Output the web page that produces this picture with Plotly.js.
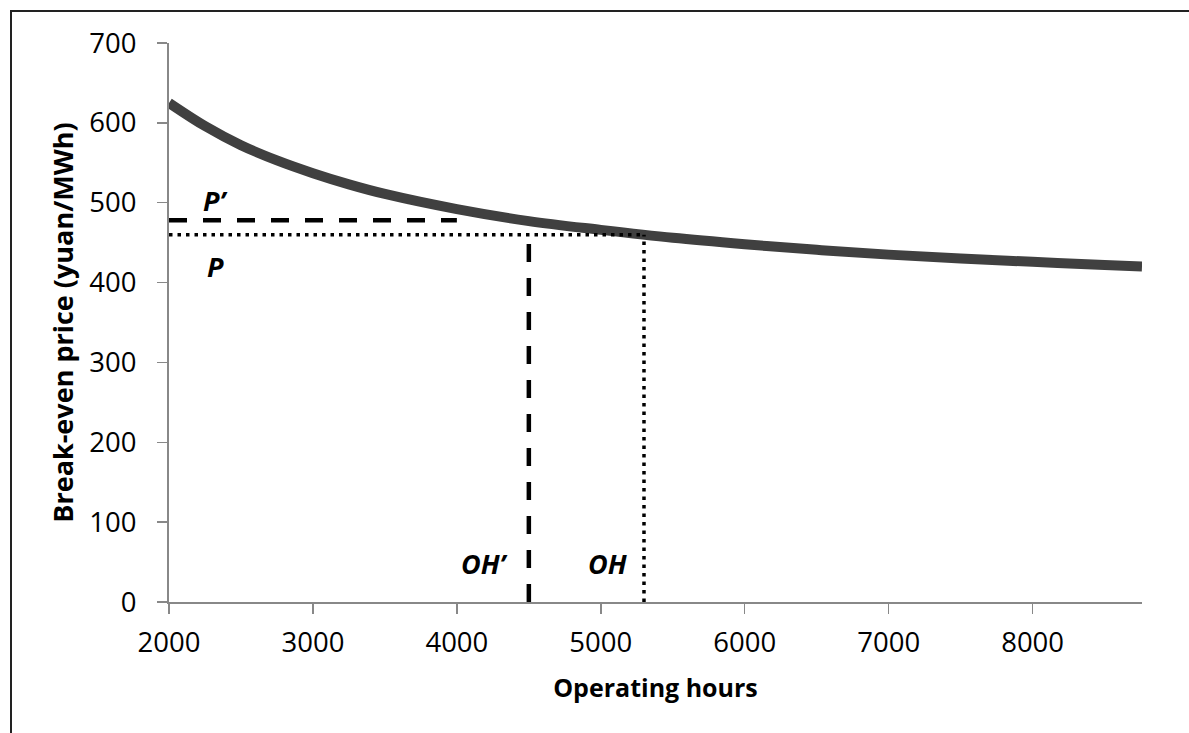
<!DOCTYPE html>
<html>
<head>
<meta charset="utf-8">
<script src="https://cdn.plot.ly/plotly-3.0.1.min.js"></script>
<style>
html,body{margin:0;padding:0;background:#fff;}
#chart{position:absolute;left:0;top:0;width:1189px;height:733px;}
#frame{position:absolute;left:10px;top:10px;width:1179px;height:723px;border-left:2px solid #222;border-top:2px solid #222;pointer-events:none;}
</style>
</head>
<body>
<div id="chart"></div>
<div id="frame"></div>
<script>
// Operating hours vs break-even price
const hours = [2000, 2250, 2500, 2750, 3000, 3250, 3500, 4000, 4500, 5000, 5500, 6000, 6500, 7000, 7500, 8000, 8500, 8760];
const price = [625, 596, 572, 553, 537, 523, 511, 492, 477, 466, 456, 448, 441, 435, 430, 426, 422, 420];

// Reference levels
const pPrime = 478;   // P'
const pBase = 460;    // P
const ohPrime = 4500; // OH'
const ohBase = 5300;  // OH

const xTicks = [2000, 3000, 4000, 5000, 6000, 7000, 8000];
const yTicks = [0, 100, 200, 300, 400, 500, 600, 700];

const FONT = 'Open Sans, Noto Sans, sans-serif';

const traces = [
  {x: hours, y: price, mode: 'lines', line: {color: '#404040', width: 10, shape: 'spline', smoothing: 1}, hoverinfo: 'skip'},
  {x: [2000, 4000], y: [pPrime, pPrime], mode: 'lines', line: {color: '#000', width: 4.5, dash: '18px,16px'}},
  {x: [2000, ohBase], y: [pBase, pBase], mode: 'lines', line: {color: '#000', width: 3.5, dash: '3.5px,5px'}},
  {x: [ohPrime, ohPrime], y: [0, pBase], mode: 'lines', line: {color: '#000', width: 4.5, dash: '18px,16px'}},
  {x: [ohBase, ohBase], y: [0, pBase], mode: 'lines', line: {color: '#000', width: 3.5, dash: '3.5px,5px'}}
];

const annFont = {family: FONT, size: 27, color: '#000', weight: 'bold', style: 'italic'};
const layout = {
  width: 1189, height: 733,
  margin: {l: 169, r: 47, t: 43, b: 131},
  paper_bgcolor: '#fff', plot_bgcolor: '#fff',
  showlegend: false,
  font: {family: FONT, size: 27, color: '#000'},
  xaxis: {
    range: [2000, 8760], tickvals: xTicks, ticktext: xTicks.map(String),
    showgrid: false, zeroline: false, showline: true, linecolor: '#888', linewidth: 2,
    ticks: 'outside', ticklen: 10, tickcolor: '#888', tickwidth: 1.5,
    ticklabelstandoff: 5,
    tickfont: {family: FONT, size: 27.5, color: '#000'},
    title: {text: 'Operating hours', font: {family: FONT, size: 25, color: '#000', weight: 'bold'}, standoff: 20}
  },
  yaxis: {
    range: [0, 700], tickvals: yTicks, ticktext: yTicks.map(String),
    showgrid: false, zeroline: false, showline: true, linecolor: '#888', linewidth: 2,
    ticks: 'outside', ticklen: 10, tickcolor: '#888', tickwidth: 1.5,
    ticklabelstandoff: 15,
    tickfont: {family: FONT, size: 27.5, color: '#000'},
    title: {text: 'Break-even price (yuan/MWh)', font: {family: FONT, size: 27, color: '#000', weight: 'bold'}, standoff: 8}
  },
  annotations: [
    {x: 2320, y: 503, text: 'P\u2019', showarrow: false, font: annFont},
    {x: 2320, y: 420, text: 'P', showarrow: false, font: annFont},
    {x: 4190, y: 48, text: 'OH\u2019', showarrow: false, font: annFont},
    {x: 5050, y: 48, text: 'OH', showarrow: false, font: annFont}
  ]
};

Plotly.newPlot('chart', traces, layout, {displayModeBar: false, staticPlot: true});
</script>
</body>
</html>
